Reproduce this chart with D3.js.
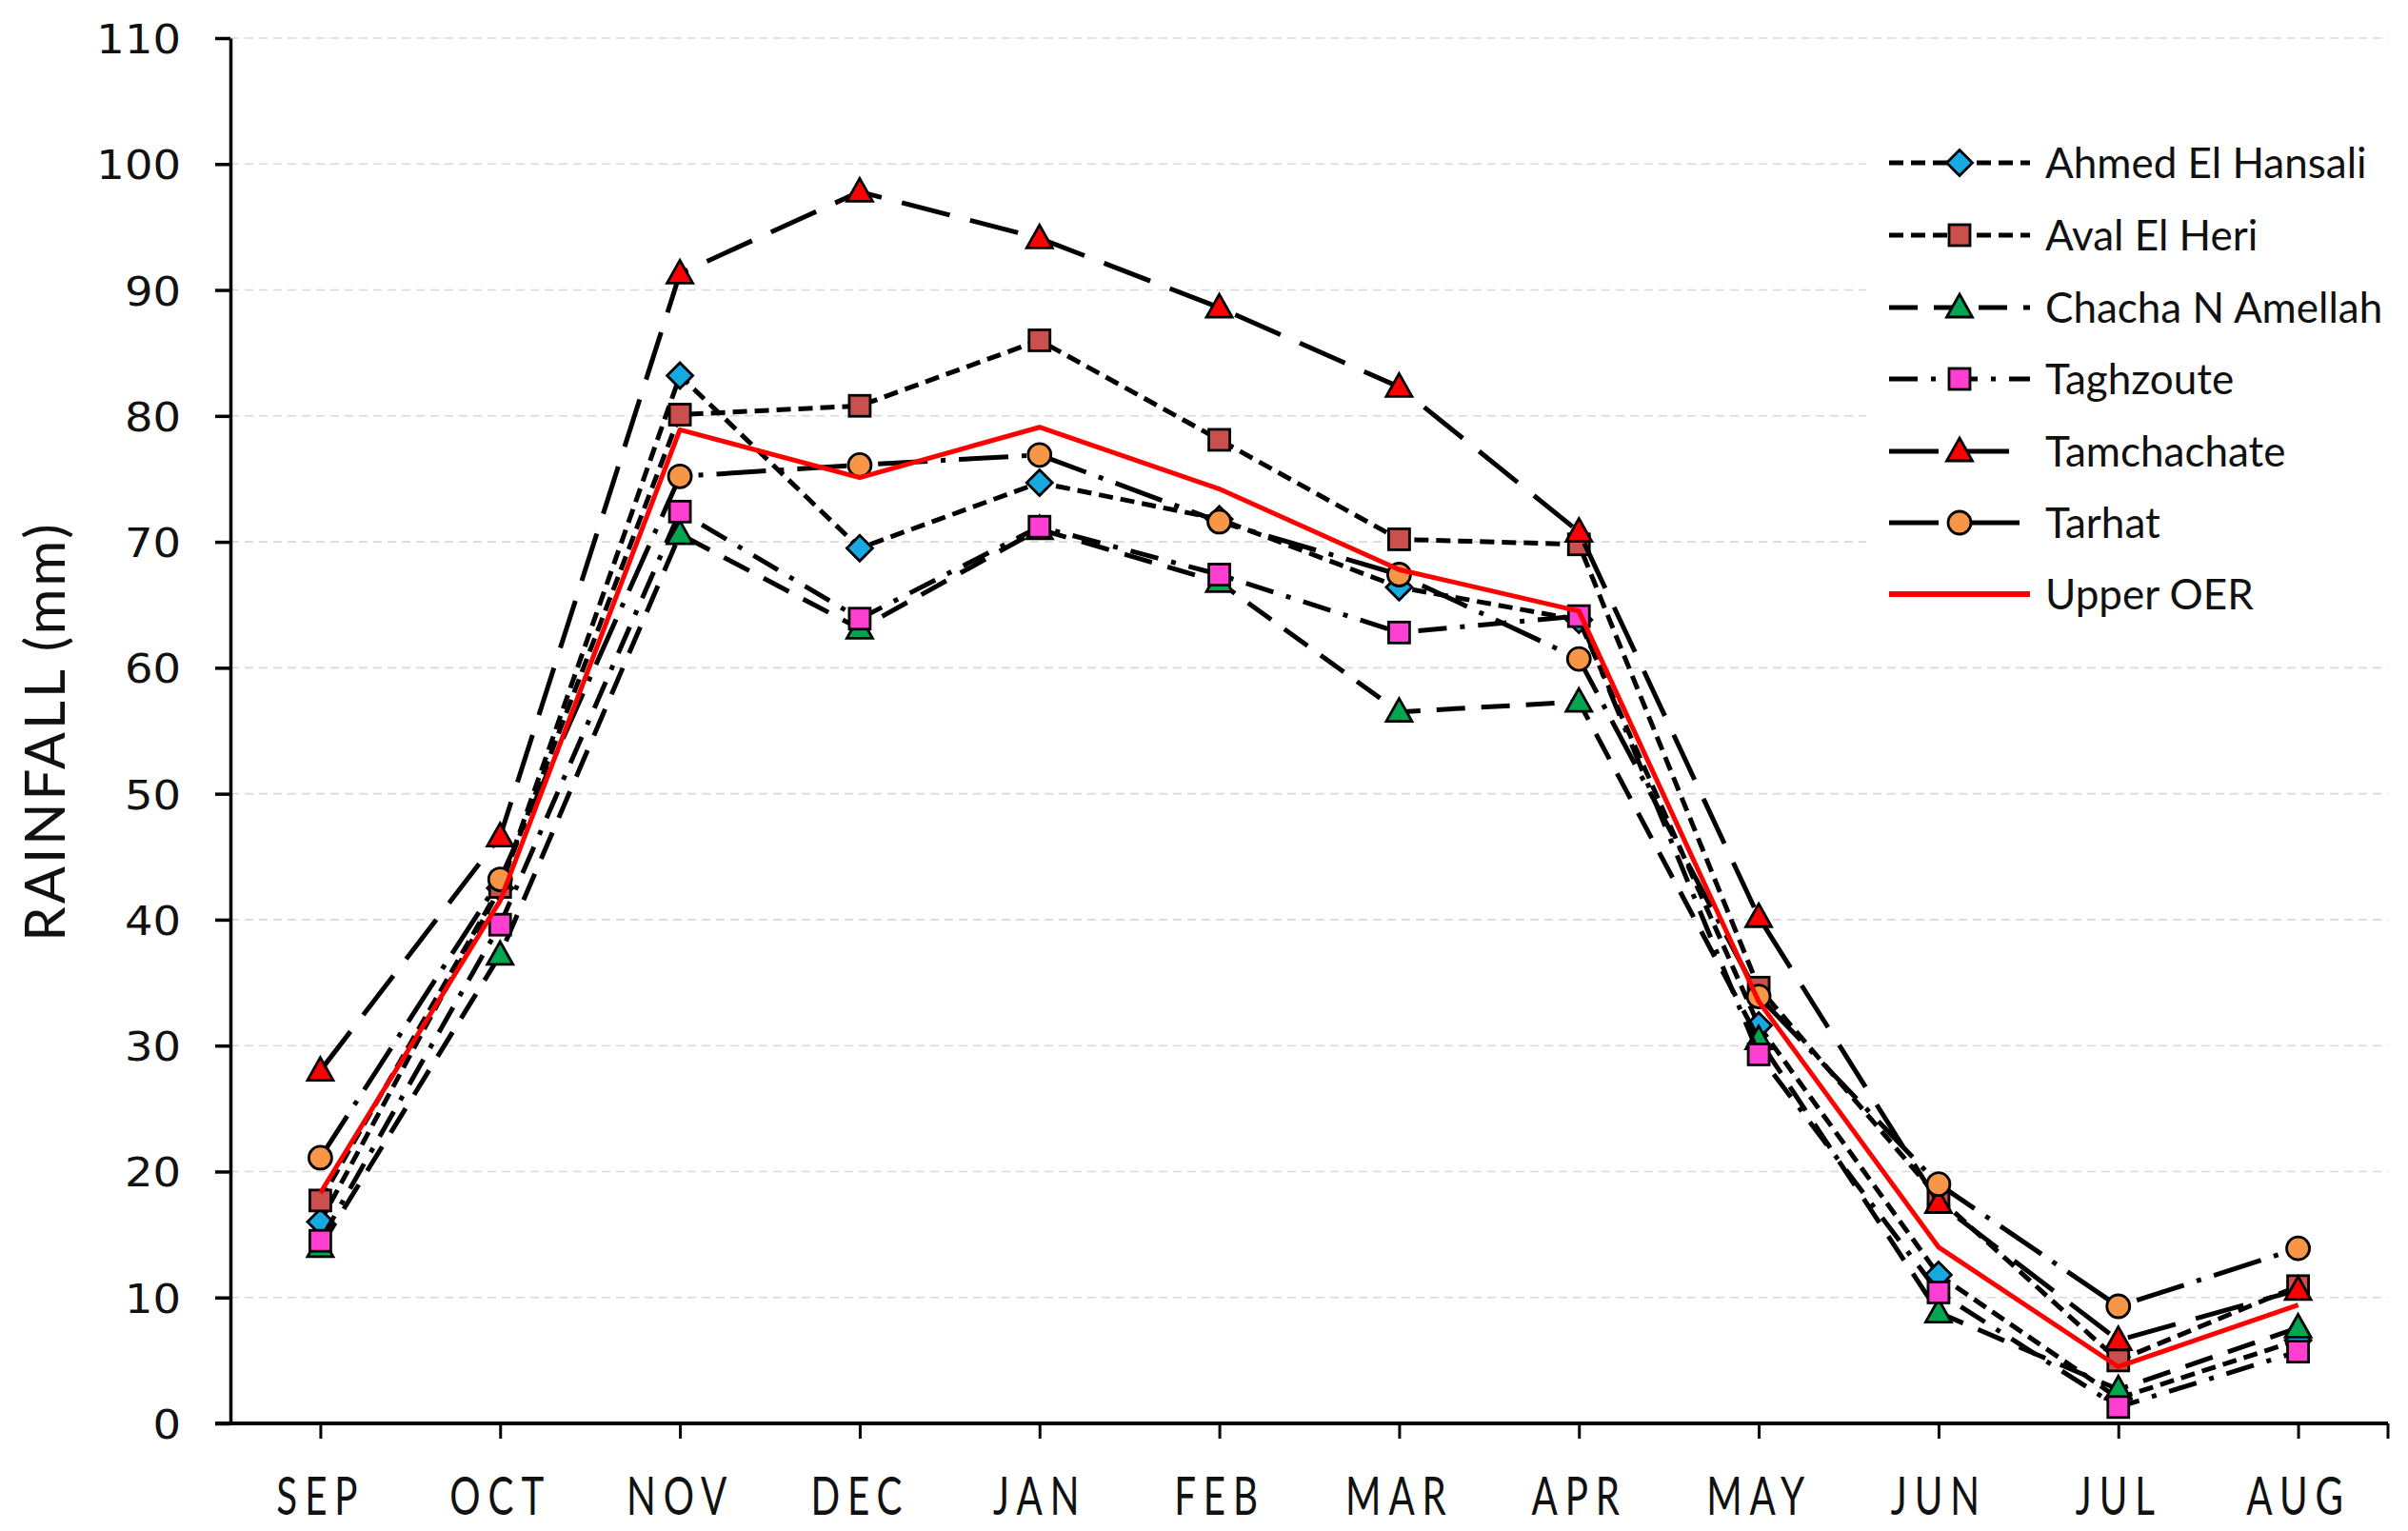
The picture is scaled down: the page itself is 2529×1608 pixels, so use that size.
<!DOCTYPE html>
<html>
<head>
<meta charset="utf-8">
<script src="https://cdn.jsdelivr.net/npm/d3@7/dist/d3.min.js"></script>
<style>
  html, body { margin: 0; padding: 0; background: #fff; }
  svg { display: block; }
</style>
</head>
<body>
<svg id="chart" width="2529" height="1608"></svg>
<script>
// ---- data ----
const months = ["SEP","OCT","NOV","DEC","JAN","FEB","MAR","APR","MAY","JUN","JUL","AUG"];
const yTicks = [0,10,20,30,40,50,60,70,80,90,100,110];
const seriesNames = ["Ahmed El Hansali","Aval El Heri","Chacha N Amellah","Taghzoute","Tamchachate","Tarhat","Upper OER"];
const ahmed       = [16.0, 42.5, 83.2, 69.5, 74.7, 71.8, 66.4, 63.8, 31.6, 11.8, 2.0, 6.6];
const aval        = [17.7, 42.6, 80.1, 80.8, 86.0, 78.1, 70.2, 69.8, 34.6, 17.9, 5.0, 10.9];
const chacha      = [14.0, 37.2, 70.6, 63.1, 71.0, 66.8, 56.5, 57.3, 30.5, 8.8, 2.7, 7.6];
const taghzoute   = [14.5, 39.6, 72.4, 63.9, 71.2, 67.4, 62.8, 64.1, 29.3, 10.4, 1.3, 5.7];
const tamchachate = [28.0, 46.6, 91.3, 97.8, 94.1, 88.6, 82.3, 70.8, 40.2, 17.5, 6.6, 10.6];
const tarhat      = [21.1, 43.2, 75.2, 76.1, 76.9, 71.6, 67.4, 60.7, 33.9, 19.0, 9.3, 13.9];
const upperOER    = [18.3, 41.5, 78.9, 75.1, 79.1, 74.2, 67.8, 64.5, 33.5, 14.0, 4.5, 9.4];

// ---- styles ----
const styles = [
  {values: ahmed,       marker: "diamond",  fill: "#17A9E1", dash: "15,8",          color: "#000", width: 5},
  {values: aval,        marker: "square",   fill: "#C9504D", dash: "15,8",          color: "#000", width: 5},
  {values: chacha,      marker: "triangle", fill: "#00A650", dash: "30,17",         color: "#000", width: 5},
  {values: taghzoute,   marker: "square",   fill: "#FF3FD2", dash: "30,14,5,14",    color: "#000", width: 5},
  {values: tamchachate, marker: "triangle", fill: "#FF0000", dash: "52,22",         color: "#000", width: 5},
  {values: tarhat,      marker: "circle",   fill: "#F79646", dash: "52,14,5,14",    color: "#000", width: 5},
  {values: upperOER,    marker: null,       fill: null,      dash: null,            color: "#FF0000", width: 5}
];

const svg = d3.select("#chart");
const L = 242, R = 2508, T = 40, B = 1495;

const x = d3.scalePoint().domain(months).range([L, R]).padding(0.5);
const y = d3.scaleLinear().domain([0, 110]).range([B, T]);

// gridlines
svg.append("g").selectAll("line").data(yTicks.filter(d => d > 0)).join("line")
  .attr("x1", L).attr("x2", R)
  .attr("y1", d => y(d)).attr("y2", d => y(d))
  .attr("stroke", "#D9D9D9").attr("stroke-width", 1.6).attr("stroke-dasharray", "9,6");

// y axis
const yAxis = svg.append("g").attr("transform", `translate(${L},0)`)
  .call(d3.axisLeft(y).tickValues(yTicks).tickSize(16).tickSizeOuter(0));
yAxis.select(".domain").attr("stroke", "#000").attr("stroke-width", 3.5);
yAxis.selectAll(".tick line").attr("stroke", "#000").attr("stroke-width", 3.5);
yAxis.selectAll(".tick text")
  .attr("x", 0).attr("dy", "0.36em")
  .attr("transform", "translate(-52,0) scale(1.08,1)")
  .attr("font-family", "DejaVu Sans").attr("font-size", 43).attr("fill", "#111");

// x axis
const xAxis = svg.append("g").attr("transform", `translate(0,${B})`)
  .call(d3.axisBottom(x).tickSize(16).tickSizeOuter(0));
xAxis.select(".domain").remove();
xAxis.append("line").attr("x1", L - 16).attr("x2", R).attr("y1", 0).attr("y2", 0)
  .attr("stroke", "#000").attr("stroke-width", 4);
xAxis.append("line").attr("x1", R).attr("x2", R).attr("y1", 0).attr("y2", 16)
  .attr("stroke", "#000").attr("stroke-width", 3);
xAxis.selectAll(".tick line").attr("stroke", "#000").attr("stroke-width", 3);
xAxis.selectAll(".tick text")
  .attr("y", 0).attr("dy", 0)
  .attr("transform", "translate(0,96) scale(0.72,1)")
  .attr("font-family", "Lato, 'Open Sans', sans-serif").attr("font-size", 56)
  .attr("letter-spacing", 11).attr("fill", "#111");

// y label
svg.append("text")
  .attr("transform", "translate(68,768) rotate(-90)")
  .attr("text-anchor", "middle")
  .attr("font-family", "Lato, 'Open Sans', sans-serif").attr("font-size", 58)
  .attr("letter-spacing", 3).attr("fill", "#111")
  .text("RAINFALL (mm)");

// markers
function drawMarker(g, type, cx, cy, fill) {
  if (type === "diamond") {
    const r = 13.5;
    g.append("path").attr("d", `M${cx},${cy - r}L${cx + r},${cy}L${cx},${cy + r}L${cx - r},${cy}Z`)
      .attr("fill", fill).attr("stroke", "#000").attr("stroke-width", 2.8);
  } else if (type === "square") {
    const s = 22;
    g.append("rect").attr("x", cx - s / 2).attr("y", cy - s / 2).attr("width", s).attr("height", s)
      .attr("fill", fill).attr("stroke", "#000").attr("stroke-width", 2.8);
  } else if (type === "triangle") {
    g.append("path").attr("d", `M${cx},${cy - 14}L${cx + 13.5},${cy + 10}L${cx - 13.5},${cy + 10}Z`)
      .attr("fill", fill).attr("stroke", "#000").attr("stroke-width", 2.8).attr("stroke-linejoin", "miter");
  } else if (type === "circle") {
    g.append("circle").attr("cx", cx).attr("cy", cy).attr("r", 12)
      .attr("fill", fill).attr("stroke", "#000").attr("stroke-width", 2.8);
  }
}

const line = d3.line().x((d, i) => x(months[i])).y(d => y(d));

styles.forEach((s, k) => {
  const g = svg.append("g").attr("class", "series");
  g.append("path").datum(s.values)
    .attr("d", line)
    .attr("fill", "none")
    .attr("stroke", s.color)
    .attr("stroke-width", s.width)
    .attr("stroke-dasharray", s.dash)
    .attr("stroke-linejoin", "round");
  if (s.marker) {
    s.values.forEach((v, i) => drawMarker(g, s.marker, x(months[i]), y(v), s.fill));
  }
});

// legend
const leg = svg.append("g");
leg.append("rect").attr("x", 1960).attr("y", 128).attr("width", 560).attr("height", 535).attr("fill", "#fff");
const rowsY = [171, 247, 323, 398, 474, 549, 624];
styles.forEach((s, k) => {
  const yy = rowsY[k];
  leg.append("line").attr("x1", 1984).attr("x2", 2132).attr("y1", yy).attr("y2", yy)
    .attr("stroke", s.color).attr("stroke-width", s.width + (s.marker ? 0 : 1))
    .attr("stroke-dasharray", s.dash);
  if (s.marker) drawMarker(leg, s.marker, 2058, yy, s.fill);
  leg.append("text").attr("x", 2148).attr("y", yy).attr("dy", "0.36em")
    .attr("font-family", "Lato, 'Open Sans', sans-serif").attr("font-size", 44).attr("fill", "#111")
    .text(seriesNames[k]);
});
</script>
</body>
</html>
